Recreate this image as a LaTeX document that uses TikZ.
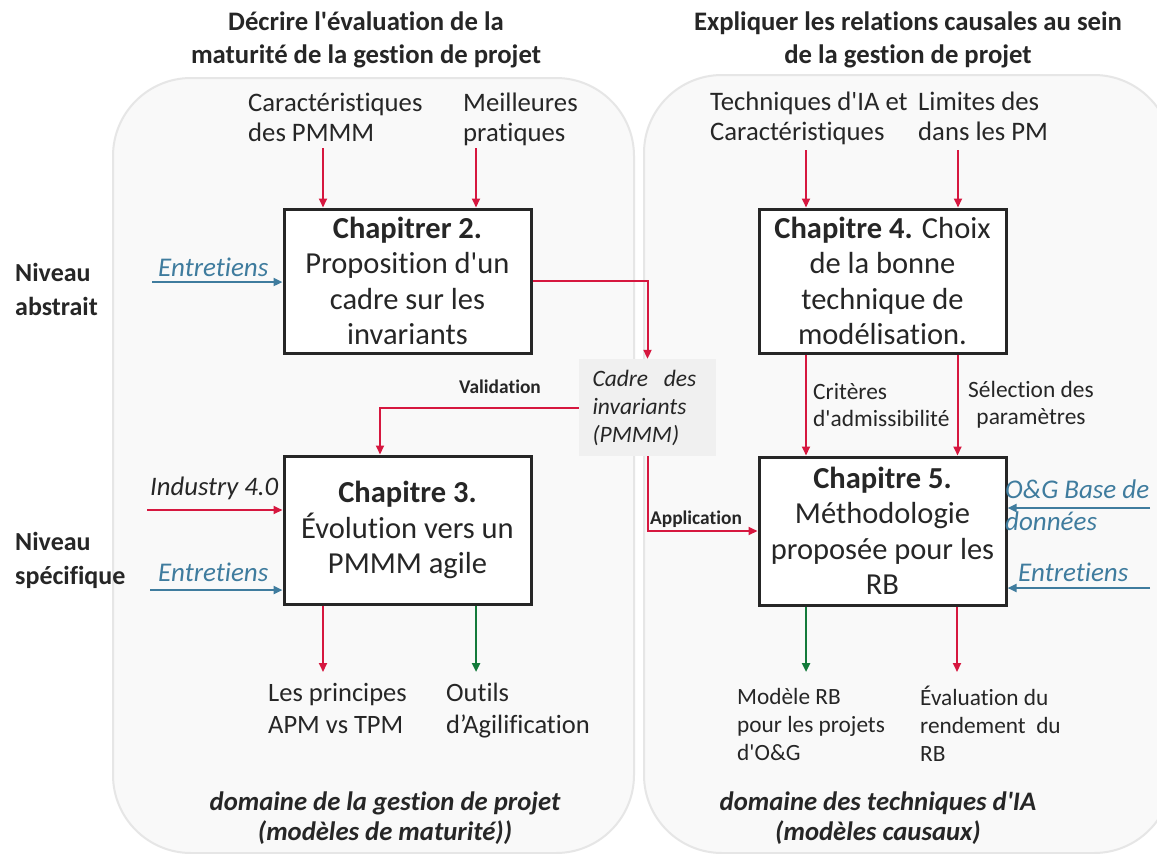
\documentclass[tikz,border=0pt]{standalone}
\usepackage{fontspec}
\defaultfontfeatures{}
\setmainfont{Carlito}[Ligatures={NoCommon,TeXOff}]
\usetikzlibrary{arrows.meta}
\definecolor{myred}{HTML}{D6173F}
\definecolor{myblue}{HTML}{3F7C9E}
\definecolor{mygreen}{HTML}{137A3A}
\definecolor{mytext}{HTML}{262626}
\definecolor{panelfill}{HTML}{F9F9F9}
\definecolor{paneldraw}{HTML}{E6E6E6}
\definecolor{cadrefill}{HTML}{F0F0F0}
\newcommand{\fs}[2]{\fontsize{#1}{#2}\selectfont}
\tikzset{
  panel/.style={fill=panelfill,draw=paneldraw,line width=2pt,rounded corners=78pt},
  chbox/.style={draw=mytext,line width=3pt,fill=white,minimum width=247pt,inner sep=0pt,
     align=center,text=mytext,font=\fs{30.5}{35.5}},
  lbl/.style={inner sep=0pt,align=left,text=mytext,font=\fs{26.7}{30}},
  small/.style={inner sep=0pt,align=left,text=mytext,font=\fs{23.4}{27}},
  outs/.style={inner sep=0pt,align=left,text=mytext,font=\fs{23.3}{28}},
  bluelbl/.style={inner sep=0pt,align=left,text=myblue,font=\fs{27}{32}\itshape},
  title/.style={inner sep=0pt,align=center,text=mytext,font=\fs{26.7}{33}\bfseries},
  dom/.style={inner sep=0pt,align=center,text=mytext,font=\fs{26.7}{30}\bfseries\itshape},
  redarr/.style={draw=myred,line width=2pt,-{Triangle[length=9pt,width=8pt]}},
  greenarr/.style={draw=mygreen,line width=2.5pt,-{Triangle[length=9pt,width=8pt]}},
  bluearr/.style={draw=myblue,line width=2.5pt,-{Triangle[length=9pt,width=8pt]}},
  tag/.style={inner sep=0pt,text=mytext,font=\fs{19.4}{22}\bfseries}
}
\begin{document}
\begin{tikzpicture}[x=1pt,y=-1pt]
\useasboundingbox[fill=white] (0,0) rectangle (1157,854);
% panels
\draw[panel] (113,78) rectangle (634,853);
\draw[panel] (644,75) rectangle (1172,853);
% titles
\node[title,anchor=north] (t1) at (366,12) {Décrire l'évaluation de la\\maturité de la gestion de projet};
\node[title,anchor=north] (t2) at (908,12) {Expliquer les relations causales au sein\\de la gestion de projet};
% level labels
\node[lbl,font=\fs{26}{34}\bfseries,anchor=north west] (na) at (15,263) {Niveau\\abstrait};
\node[lbl,font=\fs{26}{34}\bfseries,anchor=north west] (ns) at (15,532) {Niveau\\spécifique};
% chapter boxes
\node[chbox,minimum height=144pt] (ch2) at (407.5,281) {\textbf{Chapitrer 2.}\\Proposition d'un\\cadre sur les\\invariants};
\node[chbox,minimum height=148pt] (ch3) at (407.5,530) {\textbf{Chapitre 3.}\\Évolution vers un\\PMMM agile};
\node[chbox,minimum height=144pt] (ch4) at (882.5,281) {\textbf{Chapitre 4.} Choix\\de la bonne\\technique de\\modélisation.};
\node[chbox,minimum height=148pt] (ch5) at (882.5,531) {\textbf{Chapitre 5.}\\Méthodologie\\proposée pour les\\RB};
% cadre
\node[fill=cadrefill,minimum width=137pt,minimum height=97pt,inner sep=0pt,text=mytext,
  text width=110pt,font=\fs{23.5}{28}\itshape,align=left] (cadre) at (647.5,407.5) {Cadre\ \ des\\invariants\\(PMMM)};
% top inputs
\node[lbl,anchor=north west] (carac) at (248,93) {Caractéristiques\\des PMMM};
\node[lbl,anchor=north west] (meil) at (463,93) {Meilleures\\pratiques};
\node[lbl,anchor=north west] (tech) at (710,92) {Techniques d'IA et\\Caractéristiques};
\node[lbl,anchor=north west] (lim) at (918,92) {Limites des\\dans les PM};
\coordinate (a1) at (323,148);
\coordinate (a2) at (476,148);
\coordinate (a3) at (806,150);
\coordinate (a4) at (958,150);
\draw[redarr] (a1) -- (a1 |- ch2.north);
\draw[redarr] (a2) -- (a2 |- ch2.north);
\draw[redarr] (a3) -- (a3 |- ch4.north);
\draw[redarr] (a4) -- (a4 |- ch4.north);
% left inputs
\node[bluelbl,anchor=north west] (e1) at (158,258) {Entretiens};
\node[lbl,font=\fs{26.7}{30}\itshape,anchor=north west] (ind) at (150,477) {Industry 4.0};
\node[bluelbl,anchor=north west] (e2) at (158,563) {Entretiens};
\coordinate (b1) at (152,282);
\coordinate (b2) at (147,510);
\coordinate (b3) at (150,590);
\draw[bluearr] (b1) -- (b1 -| ch2.west);
\draw[redarr] (b2) -- (b2 -| ch3.west);
\draw[bluearr] (b3) -- (b3 -| ch3.west);
% right inputs
\node[bluelbl,anchor=north west] (og) at (1005,480) {O\&G Base de\\données};
\node[bluelbl,anchor=north west] (e3) at (1018,563) {Entretiens};
\coordinate (c1) at (1150,508);
\coordinate (c2) at (1150,588);
\draw[bluearr] (c1) -- (c1 -| ch5.east);
\draw[bluearr] (c2) -- (c2 -| ch5.east);
% internal connectors
\draw[redarr] (ch2.east) -| (cadre.north);
\draw[redarr] (cadre.west) -| ([xshift=-27.5pt]ch3.north);
\draw[redarr] (cadre.south) |- (ch5.west);
\node[tag] (val) at (500,387) {Validation};
\node[tag] (app) at (696,519) {Application};
\draw[redarr] ([xshift=-76.5pt]ch4.south) -- ([xshift=-76.5pt]ch5.north);
\draw[redarr] ([xshift=75pt]ch4.south) -- ([xshift=75pt]ch5.north);
\node[small,anchor=north west] (crit) at (813,383) {Critères\\d'admissibilité};
\node[small,align=center,anchor=north] (sel) at (1031,381) {Sélection des\\paramètres};
% outputs
\coordinate (o1) at (323,672);
\coordinate (o2) at (476,672);
\coordinate (o3) at (806,672);
\coordinate (o4) at (957,672);
\draw[redarr] (o1 |- ch3.south) -- (o1);
\draw[greenarr] (o2 |- ch3.south) -- (o2);
\draw[greenarr] (o3 |- ch5.south) -- (o3);
\draw[redarr] (o4 |- ch5.south) -- (o4);
\node[lbl,font=\fs{26.5}{32},anchor=north west] (princ) at (268,683) {Les principes\\APM vs TPM};
\node[lbl,font=\fs{26.5}{32},anchor=north west] (outil) at (446,683) {Outils\\d’Agilification};
\node[outs,anchor=north west] (mod) at (737,688) {Modèle RB\\pour les projets\\d'O\&G};
\node[outs,anchor=north west] (eval) at (920,686) {Évaluation du\\rendement\ \ du\\RB};
% domains
\node[dom,anchor=north] (d1) at (385,792) {domaine de la gestion de projet\\(modèles de maturité))};
\node[dom,anchor=north] (d2) at (878,792) {domaine des techniques d'IA\\(modèles causaux)};
\end{tikzpicture}
\end{document}
